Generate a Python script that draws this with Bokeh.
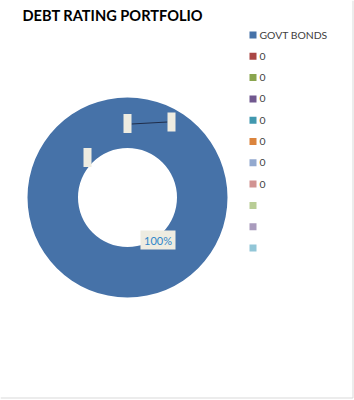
from bokeh.plotting import figure
from bokeh.models import Range1d, ColumnDataSource
from bokeh.core.properties import value
from bokeh.embed import file_html
from bokeh.resources import INLINE
import math

# ---- data ----
title = "DEBT RATING PORTFOLIO"
categories = ["GOVT BONDS", "0", "0", "0", "0", "0", "0", "0", "", "", ""]
values = [100, 0, 0, 0, 0, 0, 0, 0, 0, 0, 0]
colors = ["#4672a8", "#aa4644", "#89a54e", "#71588f", "#4198af", "#db843d",
          "#93a9cf", "#d19392", "#b9cd96", "#a99bbd", "#92c6d7"]

W, H = 354, 400
p = figure(width=W, height=H, output_backend="svg", toolbar_location=None,
           x_range=Range1d(0, W), y_range=Range1d(0, H), min_border=0)
p.axis.visible = False
p.grid.visible = False
p.outline_line_color = None
p.background_fill_color = "white"
p.border_fill_color = "white"

def Y(py):
    return H - py

# donut (only slices with a non-zero value are drawn)
cx, cy = 127, 197
r_out, r_in = 100, 49.5
total = sum(values)
start = math.pi / 2
starts, ends, cols = [], [], []
for v, col in zip(values, colors):
    a = 2 * math.pi * v / total
    if v > 0:
        starts.append(start - a)
        ends.append(start)
        cols.append(col)
    start -= a
src = ColumnDataSource(dict(start=starts, end=ends, color=cols))
p.annular_wedge(x=cx, y=Y(cy), inner_radius=r_in, outer_radius=r_out,
                start_angle="start", end_angle="end", fill_color="color",
                line_color=None, source=src)

# data labels (empty boxes for zero slices)
lab_box_fill = "#eeece1"
zero_boxes = [(87, 157), (127, 123), (171, 121.5)]
p.segment(x0=131, y0=Y(123.5), x1=167, y1=Y(121.5), line_color="#1f2d4a", line_width=1)
for bx, by in zero_boxes:
    p.rect(x=bx, y=Y(by), width=8, height=19, fill_color=lab_box_fill, line_color=None)

# main label
lx, ly = 157.5, 239.5
p.rect(x=lx, y=Y(ly), width=35, height=19, fill_color=lab_box_fill, line_color=None)
p.text(x=[lx], y=[Y(ly)], text=[f"{values[0]:.0f}%"], text_align="center",
       text_baseline="middle", text_font=value("Lato"), text_font_size="11px",
       text_color="#2f86c9")

# title
p.text(x=[22], y=[Y(15)], text=[title], text_align="left", text_baseline="middle",
       text_font=value("Lato"), text_font_size="14.6px", text_font_style="bold",
       text_color="#000000")

# legend
for i, (c, col) in enumerate(zip(categories, colors)):
    yy = 34.5 + i * 21.3
    p.rect(x=252.5, y=Y(yy), width=7, height=7, fill_color=col, line_color=None)
    if c:
        p.text(x=[259], y=[Y(yy)], text=[c], text_align="left", text_baseline="middle",
               text_font=value("Lato"), text_font_size="10.4px", text_color="#404040")

# chart border (right / bottom)
p.segment(x0=352.5, y0=Y(0), x1=352.5, y1=Y(397.5), line_color="#d9d9d9", line_width=1)
p.segment(x0=0, y0=Y(397.5), x1=352.5, y1=Y(397.5), line_color="#d9d9d9", line_width=1)

open("out.html", "w").write(file_html(p, INLINE))
